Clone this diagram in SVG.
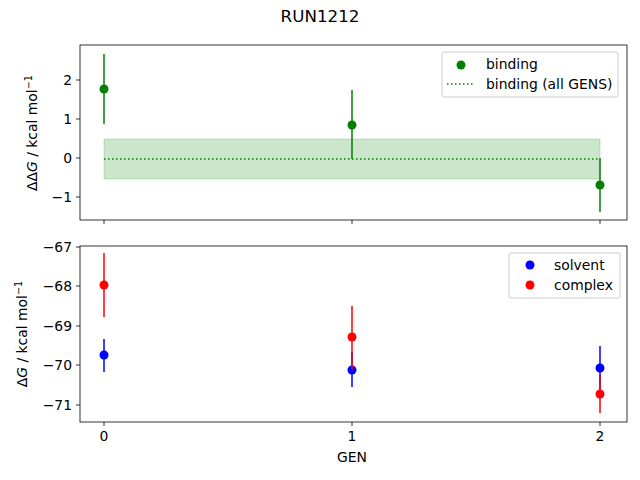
<svg xmlns="http://www.w3.org/2000/svg" width="640" height="480" viewBox="0 0 640 480">
<style>
text{font-family:"DejaVu Sans",sans-serif;font-size:13.9px;fill:#000}
.ax{fill:none;stroke:#000;stroke-width:0.8}
.tk{stroke:#000;stroke-width:0.8}
.g{stroke:green;stroke-width:1.5}
.b{stroke:blue;stroke-width:1.5}
.r{stroke:red;stroke-width:1.5}
.leg{fill:#fff;fill-opacity:0.8;stroke:#ccc;stroke-width:1}
.sup{font-size:9.7px}
</style>
<rect width="640" height="480" fill="#fff"/>
<text x="320" y="22" text-anchor="middle" style="font-size:16.7px">RUN1212</text>
<g id="top">
<rect x="104" y="139" width="496" height="40" fill="green" fill-opacity="0.2" stroke="green" stroke-opacity="0.2"/>
<line x1="104" y1="159" x2="600" y2="159" stroke="green" stroke-width="1.5" stroke-dasharray="1.5,2.5"/>
<line class="g" x1="104" y1="54" x2="104" y2="124"/><circle cx="104" cy="89" r="4.5" fill="green"/>
<line class="g" x1="352" y1="90" x2="352" y2="159"/><circle cx="352" cy="125" r="4.5" fill="green"/>
<line class="g" x1="600" y1="158" x2="600" y2="212"/><circle cx="600" cy="185" r="4.5" fill="green"/>
<rect class="ax" x="80" y="45" width="547" height="175"/>
<g class="tk"><line x1="76" y1="80" x2="80" y2="80"/><line x1="76" y1="119" x2="80" y2="119"/><line x1="76" y1="158" x2="80" y2="158"/><line x1="76" y1="197" x2="80" y2="197"/>
<line x1="104" y1="220" x2="104" y2="224"/><line x1="352" y1="220" x2="352" y2="224"/><line x1="600" y1="220" x2="600" y2="224"/></g>
<g text-anchor="end"><text x="72" y="85">2</text><text x="72" y="124">1</text><text x="72" y="163">0</text><text x="72" y="202">−1</text></g>
<text transform="translate(37,133) rotate(-90)" text-anchor="middle">ΔΔ<tspan font-style="italic">G</tspan> / kcal mol<tspan class="sup" dy="-5">−1</tspan></text>
<rect class="leg" x="442" y="52" width="176" height="45" rx="2"/>
<circle cx="461" cy="65" r="4.5" fill="green"/>
<line x1="447" y1="84" x2="475" y2="84" stroke="green" stroke-width="1.5" stroke-dasharray="1.5,2.5"/>
<text x="486" y="69">binding</text><text x="486" y="89">binding (all GENS)</text>
</g>
<g id="bottom">
<line class="b" x1="104" y1="339" x2="104" y2="372"/><circle cx="104" cy="355" r="4.5" fill="blue"/>
<line class="b" x1="352" y1="352" x2="352" y2="387"/><circle cx="352" cy="370" r="4.5" fill="blue"/>
<line class="b" x1="600" y1="346" x2="600" y2="389"/><circle cx="600" cy="368" r="4.5" fill="blue"/>
<line class="r" x1="104" y1="253" x2="104" y2="317"/><circle cx="104" cy="285" r="4.5" fill="red"/>
<line class="r" x1="352" y1="306" x2="352" y2="369"/><circle cx="352" cy="337" r="4.5" fill="red"/>
<line class="r" x1="600" y1="375" x2="600" y2="413"/><circle cx="600" cy="394" r="4.5" fill="red"/>
<rect class="ax" x="80" y="246" width="547" height="176"/>
<g class="tk"><line x1="76" y1="247" x2="80" y2="247"/><line x1="76" y1="286" x2="80" y2="286"/><line x1="76" y1="326" x2="80" y2="326"/><line x1="76" y1="365" x2="80" y2="365"/><line x1="76" y1="405" x2="80" y2="405"/>
<line x1="104" y1="422" x2="104" y2="426"/><line x1="352" y1="422" x2="352" y2="426"/><line x1="600" y1="422" x2="600" y2="426"/></g>
<g text-anchor="end"><text x="72" y="252">−67</text><text x="72" y="291">−68</text><text x="72" y="331">−69</text><text x="72" y="370">−70</text><text x="72" y="410">−71</text></g>
<g text-anchor="middle"><text x="104" y="441">0</text><text x="352" y="441">1</text><text x="600" y="441">2</text><text x="352" y="462">GEN</text></g>
<text transform="translate(27,334) rotate(-90)" text-anchor="middle">Δ<tspan font-style="italic">G</tspan> / kcal mol<tspan class="sup" dy="-5">−1</tspan></text>
<rect class="leg" x="509" y="253" width="111" height="45" rx="2"/>
<circle cx="530" cy="265" r="4.5" fill="blue"/><circle cx="530" cy="285" r="4.5" fill="red"/>
<text x="554" y="270">solvent</text><text x="554" y="290">complex</text>
</g>
</svg>
